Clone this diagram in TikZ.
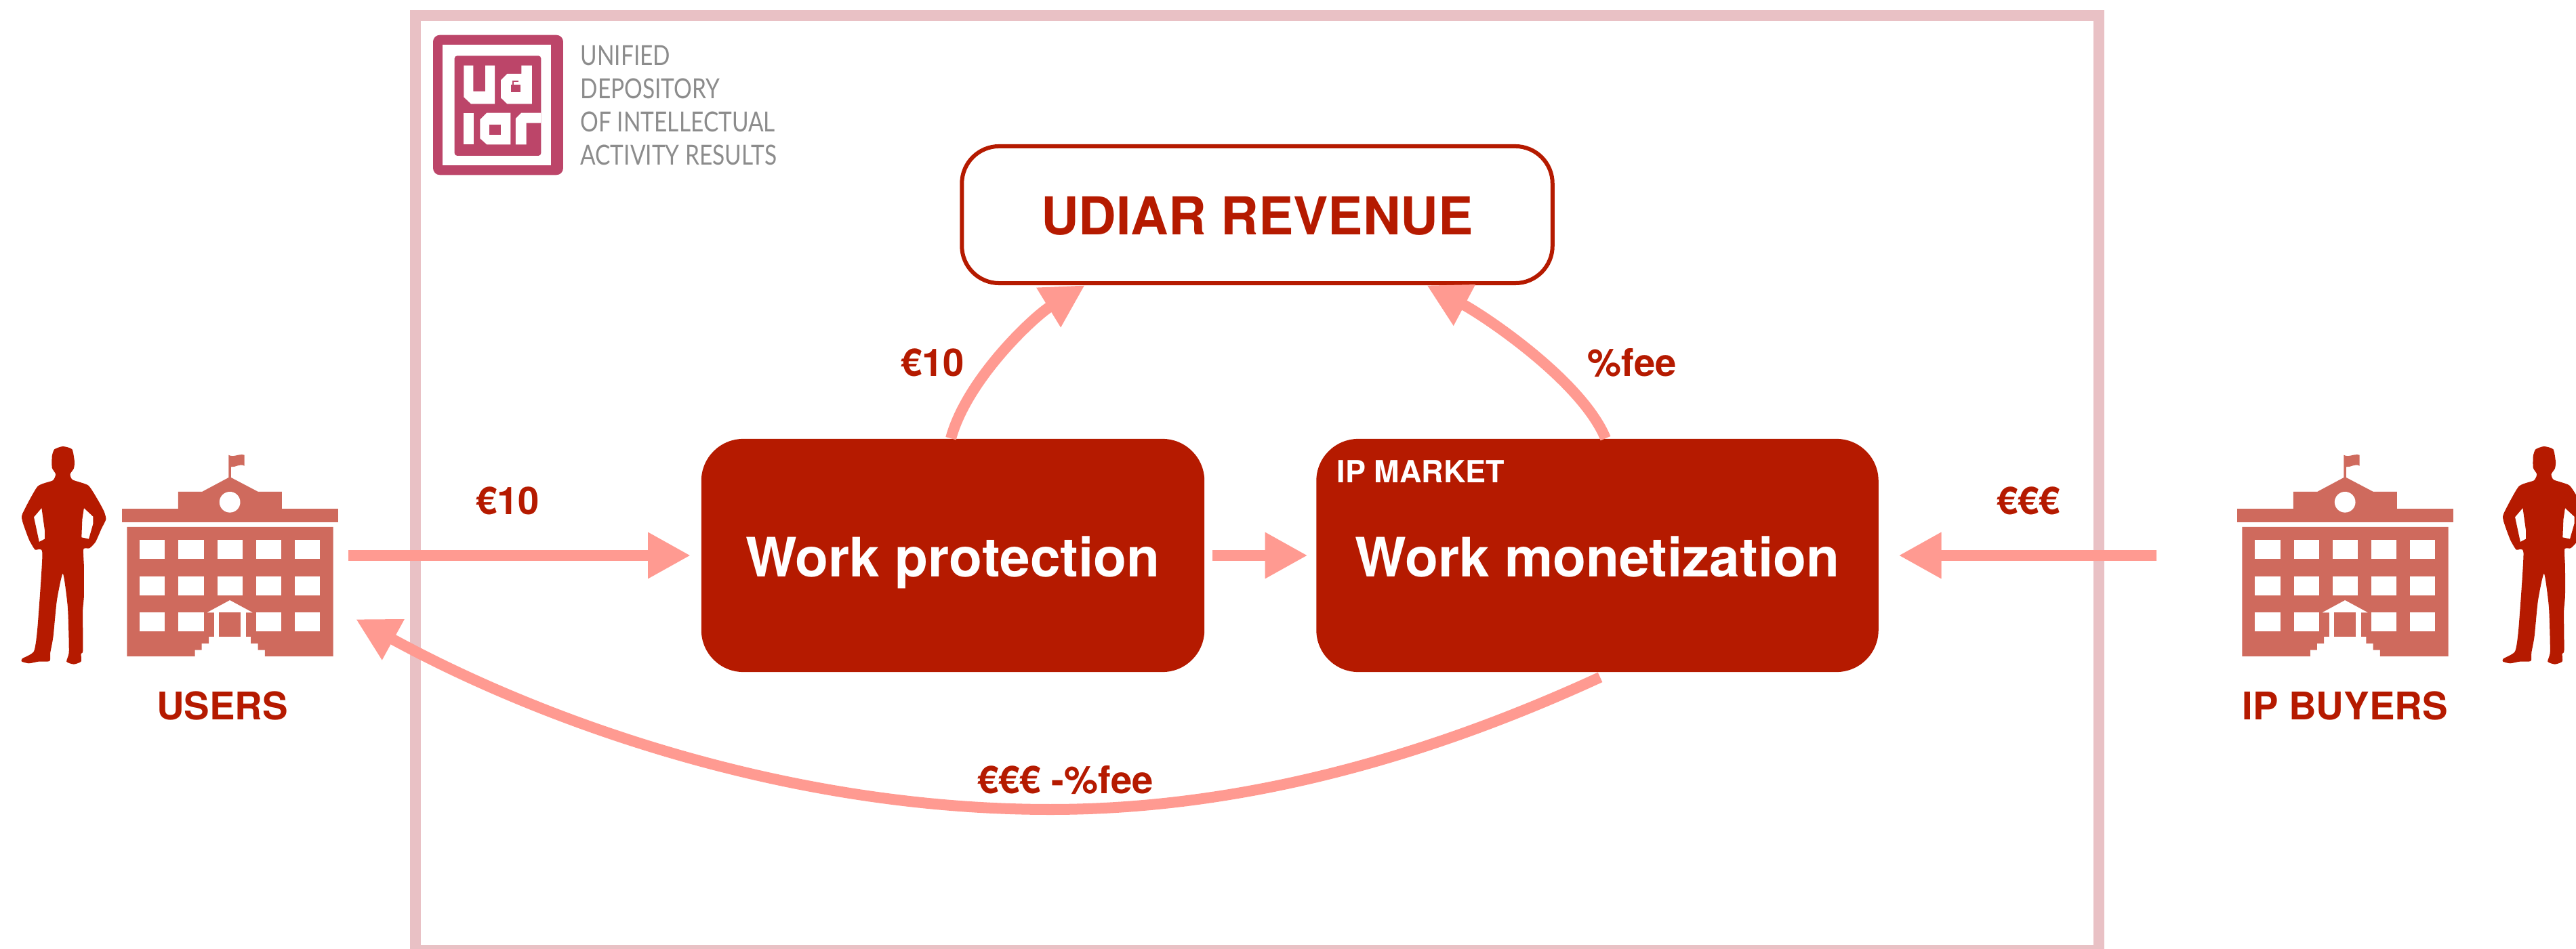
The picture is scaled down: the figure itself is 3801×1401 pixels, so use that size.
\documentclass[tikz,border=0pt]{standalone}
\usepackage{fontspec}
\setmainfont{TeX Gyre Heros}
\newfontfamily\logofont{Lato}
\usetikzlibrary{arrows.meta}
\definecolor{udiarred}{HTML}{B51A00}
\definecolor{flowpink}{HTML}{FF9A91}
\definecolor{framepink}{HTML}{E9C1C5}
\definecolor{schoolred}{HTML}{CF6A5D}
\definecolor{logorose}{HTML}{BC4569}
\tikzset{
  flow/.style = {draw = flowpink, line width = .16cm, -{Triangle[length = .63cm, width = .64cm]}},
  block/.style = {fill = udiarred, text = white, rounded corners = .62cm, minimum height = 3.44cm,
    text height = .62cm, text depth = 0cm, font = \bfseries\fontsize{22.8}{26}\selectfont},
  lab/.style = {text = udiarred, anchor = base, inner sep = 0, font = \bfseries\fontsize{16}{18}\selectfont},
  person/.pic = {
    \fill [udiarred, even odd rule, xscale = .357, yscale = .3333]
      plot [smooth cycle, tension = .35] coordinates {
        (260, 117) (298, 130) (308, 185) (305, 215) (290, 240) (300, 265) (365, 290) (405, 355)
        (430, 405) (438, 440) (420, 480) (395, 540) (370, 568) (345, 572) (347, 650) (347, 780)
        (342, 850) (343, 1020) (335, 1035) (335, 1070) (305, 1082) (275, 1070) (285, 1025) (280, 830)
        (260, 680) (235, 800) (220, 960) (208, 1030) (205, 1068) (160, 1070) (120, 1078) (90, 1070)
        (92, 1057) (140, 1025) (155, 920) (175, 590) (145, 575) (120, 530) (93, 450) (93, 415)
        (155, 295) (218, 268) (230, 240) (215, 212) (215, 160) (225, 130)}
      (172, 390) -- (140, 430) -- (162, 540) -- (185, 527) -- (185, 490) -- cycle
      (347, 390) -- (385, 428) -- (385, 460) -- (367, 527) -- (337, 520) -- (340, 440) -- cycle;
  },
  school/.pic = {
    \begin{scope}[xscale = .357, yscale = .3333]
      \fill [schoolred] (504, 393) rectangle (1397, 452);
      \fill [schoolred] (736, 393) -- (736, 318) -- (835, 318) -- (945, 255) -- (945, 155)
        .. controls (965, 168) and (985, 148) .. (1010, 155) -- (1010, 203)
        .. controls (990, 192) and (975, 210) .. (955, 208) -- (955, 255)
        -- (1067, 318) -- (1165, 318) -- (1165, 393) -- cycle;
      \fill [white] (950, 364) circle [x radius = 43, y radius = 46];
      \fill [schoolred] (525, 474) -- (1377, 474) -- (1377, 1047) -- (1095, 1047) -- (1095, 1019)
        -- (1066, 1019) -- (1066, 990) -- (1037, 990) -- (1037, 960) -- (1016, 960) -- (1016, 853)
        -- (1045, 853) -- (950, 798) -- (855, 853) -- (885, 853) -- (885, 960) -- (863, 960)
        -- (863, 990) -- (834, 990) -- (834, 1019) -- (806, 1019) -- (806, 1047) -- (525, 1047) -- cycle;
      \fill [white] (885, 853) rectangle (1016, 960);
      \fill [schoolred] (906, 853) rectangle (995, 960);
      \foreach \wx in {578, 738, 898, 1058, 1218}
        \foreach \wy in {531, 692}
          \fill [white] (\wx, \wy) rectangle +(104, 84);
      \foreach \wx in {578, 738, 1058, 1218}
        \fill [white] (\wx, 853) rectangle +(104, 84);
    \end{scope}
  }
}
\begin{document}
\begin{tikzpicture}[x = .01cm, y = -.01cm]
    \useasboundingbox (0, 0) rectangle (3801, 1401);

    \draw [framepink, line width = .16cm] (613, 23) rectangle (3097, 1403);

    \begin{scope}[shift = {(630, 45)}, xscale = .3333, yscale = .3333]
      \fill [logorose, rounded corners = .1cm] (27, 20) rectangle (603, 640);
      \fill [white] (70, 62) rectangle (548, 597);
      \fill [logorose, rounded corners = .04cm] (122, 112) rectangle (505, 555);
      \fill [white] (163, 155) -- (205, 155) -- (205, 270) -- (258, 270) -- (258, 155) -- (300, 155)
        -- (300, 325) -- (195, 325) -- (163, 295) -- cycle;
      \fill [white] (418, 155) -- (465, 155) -- (465, 325) -- (355, 325) -- (327, 298) -- (327, 220)
        -- (355, 192) -- (418, 192) -- cycle;
      \fill [logorose] (372, 240) rectangle (415, 272);
      \draw [logorose, line width = .02cm] (380, 240) -- (380, 225) -- (406, 225);
      \fill [white] (163, 365) rectangle (208, 505);
      \fill [white] (265, 365) -- (370, 365) -- (370, 505) -- (265, 505) -- (235, 478) -- (235, 395) -- cycle;
      \fill [logorose] (275, 418) rectangle (328, 462);
      \fill [white] (393, 505) -- (393, 390) -- (418, 365) -- (505, 365) -- (505, 410) -- (440, 410) -- (440, 505) -- cycle;
    \end{scope}
    \node (logotext) [anchor = north west, inner sep = 0, align = left, text = black!45, xscale = .82, transform shape,
      font = \logofont\fontsize{11.6}{13.94}\selectfont] at (856, 67)
      {UNIFIED\\DEPOSITORY\\OF INTELLECTUAL\\ACTIVITY RESULTS};

    \node (revenue) [draw = udiarred, line width = .06cm, fill = white, text = udiarred, rounded corners = .55cm,
      minimum width = 8.71cm, minimum height = 2.02cm, text height = .58cm, text depth = 0cm,
      font = \bfseries\fontsize{21.9}{26}\selectfont] at (1855, 317) {UDIAR REVENUE};
    \node (protect) [block, minimum width = 7.42cm] at (1406, 820) {Work protection};
    \node (monet) [block, minimum width = 8.29cm] at (2357, 820) {Work monetization};
    \node (market) [lab, anchor = base west, text = white, font = \bfseries\fontsize{12.8}{15}\selectfont]
      at (1972, 712) {IP MARKET};

    \pic at (0, 620) {person};
    \pic at (0, 620) {school};
    \pic at (3661, 620) {person};
    \pic at (3121, 620) {school};
    \node (users) [lab] at (328, 1062) {USERS};
    \node (buyers) [lab] at (3460, 1062) {IP BUYERS};

    \coordinate (usersout) at (514, 820);
    \coordinate (usersin) at (525, 914);
    \coordinate (buyersout) at (3182, 820);
    \coordinate (revleft) at ([xshift = -2.54cm] revenue.south);
    \coordinate (revright) at ([xshift = 2.5cm] revenue.south);
    \coordinate (monetout) at ([xshift = .04cm, yshift = -.07cm] monet.south);
    \coordinate (backlow) at (1550, 1195);

    \draw [flow, shorten >= .15cm] (usersout) -- (protect);
    \draw [flow, shorten <= .11cm, shorten >= .12cm] (protect) -- (monet);
    \draw [flow, shorten >= .29cm] (buyersout) -- (monet);
    \draw [flow] ([xshift = -.03cm] protect.north) .. controls +(24, -88) and +(-75, 46) .. (revleft);
    \draw [flow] ([xshift = .12cm] monet.north) .. controls +(-35, -85) and +(85, 45) .. (revright);
    \draw [flow] (monetout) .. controls +(-291, 134) and +(250, 0) .. (backlow)
      .. controls +(-400, 0) and +(263, 144) .. (usersin);

    \node (feeone) [lab] at (749, 760) {€10};
    \node (feetwo) [lab] at (1376, 556) {€10};
    \node (feepct) [lab] at (2408, 556) {\%fee};
    \node (feebuy) [lab] at (2993, 760) {€€€};
    \node (feeback) [lab] at (1572, 1171) {€€€ -\%fee};
\end{tikzpicture}
\end{document}
